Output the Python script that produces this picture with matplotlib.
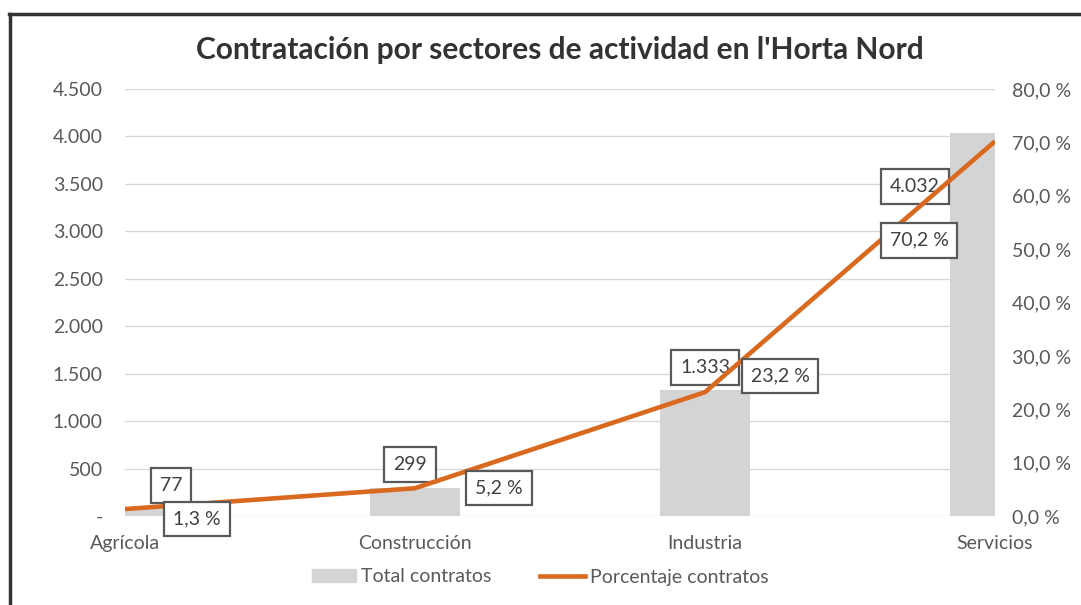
import matplotlib.pyplot as plt
from matplotlib.lines import Line2D
from matplotlib.patches import Patch
import numpy as np

plt.rcParams['font.family'] = ['Lato', 'DejaVu Sans']

sectores = ['Agrícola', 'Construcción', 'Industria', 'Servicios']
total_contratos = [77, 299, 1333, 4032]
porcentaje = [1.3, 5.2, 23.2, 70.2]

gris = '#595959'
naranja = '#d9691f'

fig = plt.figure(figsize=(10.81, 6.05), dpi=100)
ax = fig.add_axes([125/1081, 1-516/605, 870/1081, 427/605])
ax2 = ax.twinx()

x = np.arange(len(sectores))
ax.bar(x, total_contratos, width=0.31, color='#d4d4d4', zorder=2)
ax2.plot(x, porcentaje, color=naranja, lw=3.3, solid_capstyle='butt', zorder=3)

ax.set_xlim(0, 3)
ax.set_ylim(0, 4500)
ax2.set_ylim(0, 80)
ax.set_yticks(np.arange(0, 4501, 500))
ax2.set_yticks(np.arange(0, 81, 10))

def miles(v):
    if v == 0:
        return '-'
    return f'{int(v):,}'.replace(',', '.')

ax.set_yticklabels([miles(v) for v in ax.get_yticks()])
ax2.set_yticklabels([f'{v:.1f} %'.replace('.', ',') for v in ax2.get_yticks()])
ax.set_xticks(x)
ax.set_xticklabels(sectores)

ax.grid(axis='y', color='#d9d9d9', lw=1, zorder=0)
ax.set_axisbelow(True)
for a in (ax, ax2):
    for s in a.spines.values():
        s.set_visible(False)
    a.tick_params(length=0, colors=gris, labelsize=14)
ax.tick_params(axis='y', pad=16)
ax2.tick_params(axis='y', pad=12)
ax.tick_params(axis='x', pad=14)

caja = dict(boxstyle='square,pad=0.45', fc='white', ec='#595959', lw=1.6)
off_barras = [(46, 23), (-5, 23), (0, 22), (-80, -53)]
off_linea = [(72, -10), (84, 0), (75, 16), (-76, -99)]
for i in range(len(sectores)):
    ax.annotate(miles(total_contratos[i]), (x[i], total_contratos[i]),
                xytext=off_barras[i], textcoords='offset pixels',
                ha='center', va='center', fontsize=14, color='#404040',
                bbox=caja, zorder=5, annotation_clip=False)
    ax2.annotate(f'{porcentaje[i]:.1f} %'.replace('.', ','), (x[i], porcentaje[i]),
                 xytext=off_linea[i], textcoords='offset pixels',
                 ha='center', va='center', fontsize=14, color='#404040',
                 bbox=caja, zorder=5, annotation_clip=False)

fig.text(560/1081, 1-50/605, "Contratación por sectores de actividad en l'Horta Nord",
         ha='center', va='center', fontsize=21.5, fontweight='bold', color='#333333')

handles = [Patch(color='#d4d4d4'), Line2D([], [], color=naranja, lw=3.3)]
fig.legend(handles, ['Total contratos', 'Porcentaje contratos'], ncol=2,
           loc='center', bbox_to_anchor=(540/1081, 1-577/605), frameon=False,
           fontsize=14, labelcolor=gris, handlelength=2.3, handleheight=0.6,
           handletextpad=0.25, columnspacing=2.5)

# borde del gráfico
fig.add_artist(Line2D([10/1081, 10/1081], [0, 1-14/605], color='#333333', lw=2.5,
                      transform=fig.transFigure))
fig.add_artist(Line2D([9/1081, 1], [1-14/605, 1-14/605], color='#333333', lw=2.5,
                      transform=fig.transFigure))

fig.savefig('out.png', dpi=100)
